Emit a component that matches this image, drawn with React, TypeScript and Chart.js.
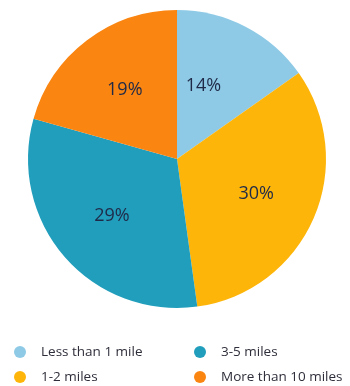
import React, { useEffect, useRef } from "react";
import { Chart, registerables } from "chart.js";

Chart.register(...registerables);

const categories = ["Less than 1 mile", "1-2 miles", "3-5 miles", "More than 10 miles"];
const values = [14, 30, 29, 19];
const colors = ["#8ecae6", "#fdb50a", "#219ebc", "#fa8511"];

const sliceLabels = {
  id: "sliceLabels",
  afterDatasetsDraw(chart: any) {
    const ctx = chart.ctx;
    const meta = chart.getDatasetMeta(0);
    ctx.save();
    ctx.font = "18px 'Open Sans', sans-serif";
    ctx.fillStyle = "#1f2a48";
    ctx.textAlign = "center";
    ctx.textBaseline = "middle";
    meta.data.forEach((arc: any, i: number) => {
      const p = arc.getProps(["x", "y", "startAngle", "endAngle", "outerRadius"], true);
      const mid = (p.startAngle + p.endAngle) / 2 - (i === 0 ? 0.15 : 0);
      const r = p.outerRadius * (i === 0 ? 0.55 : 0.58);
      ctx.fillText(values[i] + "%", p.x + Math.cos(mid) * r, p.y + Math.sin(mid) * r + (i === 0 ? 4 : 0));
    });
    ctx.restore();
  },
};

const gridLegend = {
  id: "gridLegend",
  afterDraw(chart: any) {
    const ctx = chart.ctx;
    ctx.save();
    ctx.font = "13.5px 'Open Sans', sans-serif";
    ctx.textBaseline = "middle";
    ctx.textAlign = "left";
    categories.forEach((label, idx) => {
      const col = Math.floor(idx / 2);
      const row = idx % 2;
      const cx = 20 + col * 180;
      const cy = 352 + row * 25;
      ctx.beginPath();
      ctx.arc(cx, cy, 6, 0, Math.PI * 2);
      ctx.fillStyle = colors[idx];
      ctx.fill();
      ctx.fillStyle = "#2e2e3a";
      ctx.fillText(label, cx + 21, cy);
    });
    ctx.restore();
  },
};

export default function App() {
  const ref = useRef<HTMLCanvasElement>(null);
  useEffect(() => {
    const chart = new Chart(ref.current!, {
      type: "pie",
      data: {
        labels: categories,
        datasets: [{ data: values, backgroundColor: colors, borderWidth: 0 }],
      },
      options: {
        responsive: false,
        animation: false,
        layout: { padding: { left: 28, right: 24, top: 10, bottom: 78 } },
        plugins: { legend: { display: false }, tooltip: { enabled: false } },
      },
      plugins: [sliceLabels, gridLegend],
    });
    return () => chart.destroy();
  }, []);
  return (
    <div style={{ position: "absolute", left: 0, top: 0, width: 350, height: 386, background: "#fff" }}>
      <canvas ref={ref} width={350} height={386} style={{ width: 350, height: 386 }} />
    </div>
  );
}
